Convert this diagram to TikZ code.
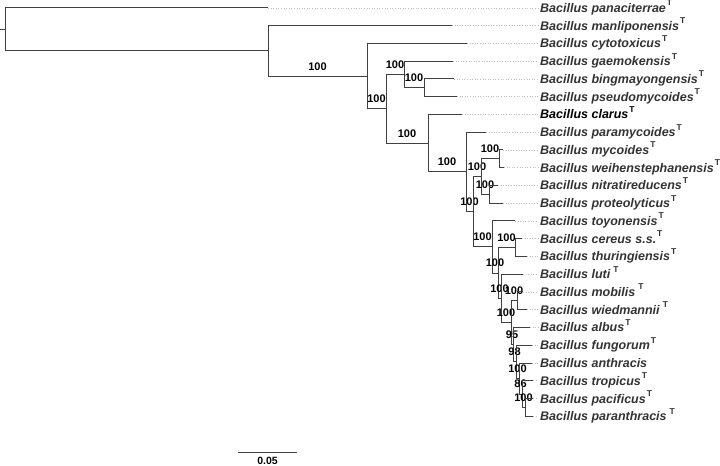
\documentclass[tikz,border=0pt]{standalone}
\usepackage{fontspec}
\setsansfont{Liberation Sans}
\renewcommand{\familydefault}{\sfdefault}
\newcommand{\typeT}{\kern1bp\raisebox{6.5bp}{\fontsize{8.5bp}{9bp}\selectfont\bfseries\upshape T}}

\begin{document}
\begin{tikzpicture}[x=1bp, y=-1bp,
  branch/.style={draw=black!75, line width=1bp},
  guide/.style={draw=black!25, dotted, line width=.6bp},
  leaf/.style={anchor=base west, yshift=-4.5bp, inner sep=2bp, text=black!80,
    font=\fontsize{12.5bp}{14bp}\selectfont\bfseries\itshape},
  boot/.style={anchor=south, inner sep=0pt, yshift=5.5bp,
    font=\fontsize{11bp}{12bp}\selectfont\bfseries}]
  \useasboundingbox (0,0) rectangle (720,466);

  % internal nodes
  \coordinate (stub) at (0, 29.5);
  \coordinate (r) at (5, 29.5);
  \coordinate (a) at (268, 51);
  \coordinate (b) at (367, 76.2);
  \coordinate (c) at (386, 108.9);
  \coordinate (d) at (404, 74.6);
  \coordinate (f) at (424, 87.9);
  \coordinate (e) at (428, 143.3);
  \coordinate (g) at (466, 172);
  \coordinate (h) at (473, 211.8);
  \coordinate (k) at (481, 176.6);
  \coordinate (j) at (499, 158.9);
  \coordinate (m) at (489, 194.4);
  \coordinate (l) at (492, 247);
  \coordinate (n) at (498, 273.1);
  \coordinate (o) at (515, 247.6);
  \coordinate (p) at (501, 298.5);
  \coordinate (q) at (517, 300.9);
  \coordinate (i) at (511, 322.8);
  \coordinate (s) at (513, 344.7);
  \coordinate (t) at (516, 361.9);
  \coordinate (u) at (519, 378.5);
  \coordinate (v) at (522, 394.1);
  \coordinate (w) at (525, 407.4);

  % tips
  \coordinate (pan) at (268, 8);
  \coordinate (man) at (452, 25.75);
  \coordinate (cyt) at (467, 43.5);
  \coordinate (gae) at (453, 61.25);
  \coordinate (bin) at (454, 79);
  \coordinate (pse) at (457, 96.75);
  \coordinate (cla) at (462, 114.5);
  \coordinate (par) at (486, 132.25);
  \coordinate (myc) at (503, 150);
  \coordinate (wei) at (504, 167.75);
  \coordinate (nit) at (498, 185.5);
  \coordinate (pro) at (503, 203.25);
  \coordinate (toy) at (515, 221);
  \coordinate (cer) at (522, 238.75);
  \coordinate (thu) at (527, 256.5);
  \coordinate (lut) at (523, 274.25);
  \coordinate (mob) at (523, 292);
  \coordinate (wie) at (527, 309.75);
  \coordinate (alb) at (530, 327.5);
  \coordinate (fun) at (532, 345.25);
  \coordinate (ant) at (532, 363);
  \coordinate (tro) at (533, 380.75);
  \coordinate (pac) at (533, 398.5);
  \coordinate (pnt) at (533, 416.25);

  % names
  \node[leaf] (tpan) at (538, 8) {Bacillus panaciterrae\typeT};
  \node[leaf] (tman) at (538, 25.75) {Bacillus manliponensis\typeT};
  \node[leaf] (tcyt) at (538, 43.5) {Bacillus cytotoxicus\typeT};
  \node[leaf] (tgae) at (538, 61.25) {Bacillus gaemokensis\typeT};
  \node[leaf] (tbin) at (538, 79) {Bacillus bingmayongensis\typeT};
  \node[leaf] (tpse) at (538, 96.75) {Bacillus pseudomycoides\typeT};
  \node[leaf, text=black] (tcla) at (538, 114.5) {Bacillus clarus\typeT};
  \node[leaf] (tpar) at (538, 132.25) {Bacillus paramycoides\typeT};
  \node[leaf] (tmyc) at (538, 150) {Bacillus mycoides\typeT};
  \node[leaf] (twei) at (538, 167.75) {Bacillus weihenstephanensis\typeT};
  \node[leaf] (tnit) at (538, 185.5) {Bacillus nitratireducens\typeT};
  \node[leaf] (tpro) at (538, 203.25) {Bacillus proteolyticus\typeT};
  \node[leaf] (ttoy) at (538, 221) {Bacillus toyonensis\typeT};
  \node[leaf] (tcer) at (538, 238.75) {Bacillus cereus s.s.\typeT};
  \node[leaf] (tthu) at (538, 256.5) {Bacillus thuringiensis\typeT};
  \node[leaf] (tlut) at (538, 274.25) {Bacillus luti\,\typeT};
  \node[leaf] (tmob) at (538, 292) {Bacillus mobilis\,\typeT};
  \node[leaf] (twie) at (538, 309.75) {Bacillus wiedmannii\,\typeT};
  \node[leaf] (talb) at (538, 327.5) {Bacillus albus\typeT};
  \node[leaf] (tfun) at (538, 345.25) {Bacillus fungorum\typeT};
  \node[leaf] (tant) at (538, 363) {Bacillus anthracis};
  \node[leaf] (ttro) at (538, 380.75) {Bacillus tropicus\typeT};
  \node[leaf] (tpac) at (538, 398.5) {Bacillus pacificus\typeT};
  \node[leaf] (tpnt) at (538, 416.25) {Bacillus paranthracis\,\typeT};

  % dotted guides
  \foreach \x in {pan, man, cyt, gae, bin, pse, cla, par, myc, wei, nit, pro,
                  toy, cer, thu, lut, mob, wie, alb, fun, ant, tro, pac, pnt}
    \draw[guide] (\x) -- (\x -| t\x.west);

  % branches
  \draw[branch] (stub) -- (r);
  \draw[branch] (r) |- (pan);
  \draw[branch] (r) |- (a);
  \draw[branch] (a) |- (man);
  \draw[branch] (a) |- (b) node[boot, pos=.75] (bb) {100};
  \draw[branch] (b) |- (cyt);
  \draw[branch] (b) |- (c) node[boot, pos=.75] (bc) {100};
  \draw[branch] (c) |- (d) node[boot, pos=.75] (bd) {100};
  \draw[branch] (c) |- (e) node[boot, pos=.75] (be) {100};
  \draw[branch] (d) |- (gae);
  \draw[branch] (d) |- (f) node[boot, pos=.75] (bf) {100};
  \draw[branch] (f) |- (bin);
  \draw[branch] (f) |- (pse);
  \draw[branch] (e) |- (cla);
  \draw[branch] (e) |- (g) node[boot, pos=.75] (bg) {100};
  \draw[branch] (g) |- (par);
  \draw[branch] (g) |- (h) node[boot, pos=.75] (bh) {100};
  \draw[branch] (h) |- (k) node[boot, pos=.75] (bk) {100};
  \draw[branch] (h) |- (l) node[boot, pos=.75] (bl) {100};
  \draw[branch] (k) |- (j) node[boot, pos=.75] (bj) {100};
  \draw[branch] (k) |- (m) node[boot, pos=.75] (bm) {100};
  \draw[branch] (j) |- (myc);
  \draw[branch] (j) |- (wei);
  \draw[branch] (m) |- (nit);
  \draw[branch] (m) |- (pro);
  \draw[branch] (l) |- (toy);
  \draw[branch] (l) |- (n) node[boot, pos=.75] (bn) {100};
  \draw[branch] (n) |- (o) node[boot, pos=.75] (bo) {100};
  \draw[branch] (n) |- (p) node[boot, pos=.75] (bp) {100};
  \draw[branch] (o) |- (cer);
  \draw[branch] (o) |- (thu);
  \draw[branch] (p) |- (lut);
  \draw[branch] (p) |- (i) node[boot, pos=.75] (bi) {100};
  \draw[branch] (i) |- (q) node[boot, pos=.75] (bq) {100};
  \draw[branch] (i) |- (s) node[boot, pos=.75] (bs) {95};
  \draw[branch] (q) |- (mob);
  \draw[branch] (q) |- (wie);
  \draw[branch] (s) |- (alb);
  \draw[branch] (s) |- (t) node[boot, pos=.75] (bt) {98};
  \draw[branch] (t) |- (fun);
  \draw[branch] (t) |- (u) node[boot, pos=.75] (bu) {100};
  \draw[branch] (u) |- (ant);
  \draw[branch] (u) |- (v) node[boot, pos=.75] (bv) {86};
  \draw[branch] (v) |- (tro);
  \draw[branch] (v) |- (w) node[boot, pos=.75] (bw) {100};
  \draw[branch] (w) |- (pac);
  \draw[branch] (w) |- (pnt);

  % scale bar
  \coordinate (sb0) at (238, 452);
  \coordinate (sb1) at (297, 452);
  \draw[branch] (sb0) -- (sb1) node[midway, anchor=north, inner sep=0pt, yshift=-4.5bp,
    font=\fontsize{10.5bp}{12bp}\selectfont\bfseries] (sbl) {0.05};
\end{tikzpicture}
\end{document}
